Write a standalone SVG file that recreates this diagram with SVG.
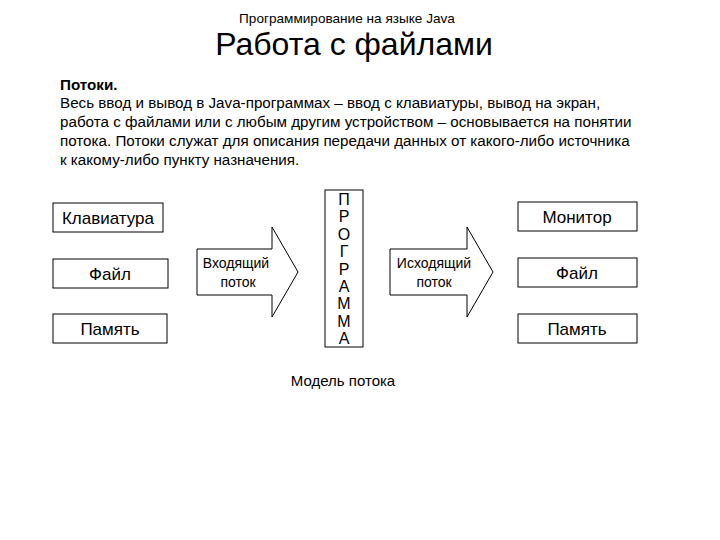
<svg xmlns="http://www.w3.org/2000/svg" width="720" height="540" viewBox="0 0 720 540">
<style>
text{font-family:"Liberation Sans",Arial,sans-serif;fill:#000}
.b{fill:#fff;stroke:#000;stroke-width:1}
.n{font-size:17px;text-anchor:middle}
.l{font-size:16px;text-anchor:middle}
.p{font-size:15.2px}
.s{font-size:14px;text-anchor:middle}
</style>
<rect width="720" height="540" fill="#fff"/>
<text x="347" y="23" font-size="13.6" text-anchor="middle">Программирование на языке Java</text>
<text x="354" y="55" font-size="32" text-anchor="middle">Работа с файлами</text>
<text class="p" x="60" y="90" font-weight="bold">Потоки.</text>
<text class="p" x="60" y="108">Весь ввод и вывод в Java-программах – ввод с клавиатуры, вывод на экран,</text>
<text class="p" x="60" y="127">работа с файлами или с любым другим устройством – основывается на понятии</text>
<text class="p" x="60" y="146">потока. Потоки служат для описания передачи данных от какого-либо источника</text>
<text class="p" x="60" y="165">к какому-либо пункту назначения.</text>
<g id="src-keyboard"><rect class="b" x="53" y="203" width="110" height="29"/><text class="n" x="108" y="224">Клавиатура</text></g>
<g id="src-file"><rect class="b" x="53" y="259" width="115" height="29"/><text class="n" x="110" y="280">Файл</text></g>
<g id="src-mem"><rect class="b" x="53" y="314" width="114" height="29"/><text class="n" x="110" y="335">Память</text></g>
<g id="in-stream"><path class="b" d="M197 249H272V227L298 272L272 317V295H197Z"/><text class="s" x="236" y="268">Входящий</text><text class="s" x="238" y="287">поток</text></g>
<g id="program"><rect class="b" x="325" y="190" width="38" height="157"/>
<text class="l" x="344" y="205">П</text><text class="l" x="344" y="222">Р</text><text class="l" x="344" y="240">О</text><text class="l" x="344" y="257">Г</text><text class="l" x="344" y="275">Р</text><text class="l" x="344" y="292">А</text><text class="l" x="344" y="309">М</text><text class="l" x="344" y="327">М</text><text class="l" x="344" y="344">А</text></g>
<g id="out-stream"><path class="b" d="M390 249H467V227L493 272L467 317V295H390Z"/><text class="s" x="434" y="268">Исходящий</text><text class="s" x="434" y="287">поток</text></g>
<g id="dst-monitor"><rect class="b" x="518" y="202" width="119" height="29"/><text class="n" x="577" y="223">Монитор</text></g>
<g id="dst-file"><rect class="b" x="518" y="258" width="119" height="29"/><text class="n" x="577" y="279">Файл</text></g>
<g id="dst-mem"><rect class="b" x="518" y="314" width="119" height="29"/><text class="n" x="577" y="335">Память</text></g>
<g id="connectors"></g>
<text x="343" y="386" font-size="15" text-anchor="middle">Модель потока</text>
</svg>
